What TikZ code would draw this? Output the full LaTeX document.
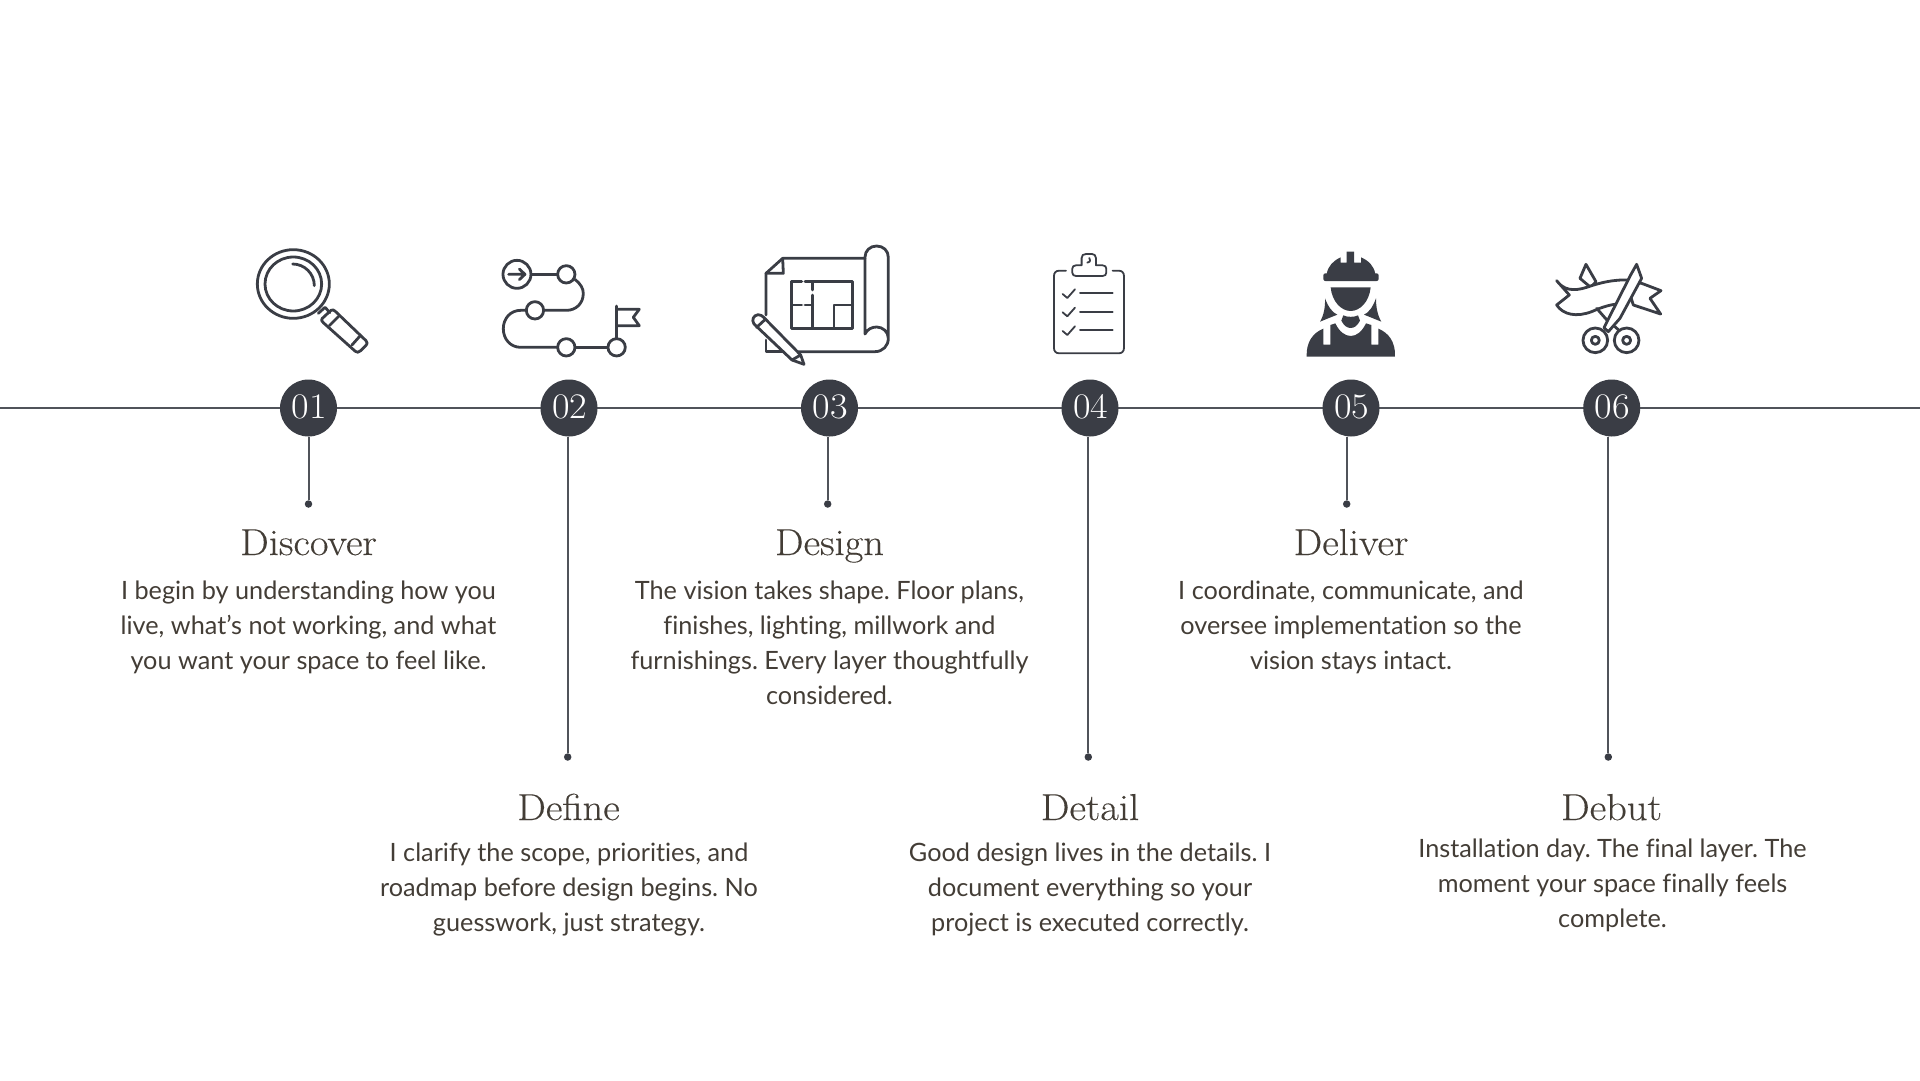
\documentclass[tikz,border=0pt]{standalone}
\usepackage{fontspec}
\newfontfamily\bodyfont[Ligatures=NoCommon]{Lato}
\newfontfamily\namefont[FakeStretch=1.08,FakeBold=0.25]{Latin Modern Roman}
\newfontfamily\numfont[FakeStretch=1.06]{Latin Modern Roman}
\usetikzlibrary{arrows.meta,positioning}
\definecolor{slate}{RGB}{58,61,69}
\definecolor{umber}{RGB}{67,61,54}
\definecolor{rule}{RGB}{80,83,90}
\tikzset{
  stepdot/.style={circle,fill=slate,inner sep=0pt,minimum size=57pt,text=white,font=\numfont\fontsize{36}{36}\selectfont},
  enddot/.style={circle,fill=slate,inner sep=0pt,minimum size=7.5pt},
  stepname/.style={anchor=base,text=umber,font=\namefont\fontsize{37.5}{37.5}\selectfont},
  stepnote/.style={anchor=north,align=center,text=umber,font=\bodyfont\fontsize{25.25}{35}\selectfont\frenchspacing},
  icon/.style={draw=slate,line width=2.8pt,line cap=round,line join=round,fill=none},
  iconthin/.style={icon,line width=1.8pt},
  stem/.style={draw=rule,line width=2pt},
}
\begin{document}
\begin{tikzpicture}[x=1pt,y=-1pt]
  \useasboundingbox (0,0) rectangle (1920,1080);
  \coordinate (lineL) at (0,408);
  \coordinate (lineR) at (1920,408);
  \draw[stem] (lineL) -- (lineR);
  \foreach \n/\cx/\sx/\sy in {01/308.5/308.5/504,02/569/567.7/757,03/829.5/827.7/504,04/1090/1088.3/757,05/1351/1346.7/504,06/1611.7/1608.3/757}{
    \node[stepdot] (c\n) at (\cx,408) {\hspace{1.5pt}\raisebox{3pt}{\n}};
    \node[enddot] (d\n) at (\sx,\sy) {};
    \draw[stem] (d\n |- c\n.south) -- (d\n);
  }
  \node[stepname] (t1) at (308.5,555) {Discover};
  \node[stepname] (t2) at (568.5,820) {Define};
  \node[stepname] (t3) at (829.5,555) {Design};
  \node[stepname] (t4) at (1090,820) {Detail};
  \node[stepname] (t5) at (1351,555) {Deliver};
  \node[stepname] (t6) at (1611.5,820) {Debut};
  \node[stepnote] (n1) at (308.5,577) {I begin by understanding how you\\live, what’s not working, and what\\you want your space to feel like.};
  \node[stepnote] (n2) at (569,839) {I clarify the scope, priorities, and\\roadmap before design begins. No\\guesswork, just strategy.};
  \node[stepnote] (n3) at (829.5,577) {The vision takes shape. Floor plans,\\finishes, lighting, millwork and\\furnishings. Every layer thoughtfully\\considered.};
  \node[stepnote] (n4) at (1090,839) {Good design lives in the details. I\\document everything so your\\project is executed correctly.};
  \node[stepnote] (n5) at (1351,577) {I coordinate, communicate, and\\oversee implementation so the\\vision stays intact.};
  \node[stepnote] (n6) at (1612.5,835.5) {Installation day. The final layer. The\\moment your space finally feels\\complete.};
  % magnifier and route
  \begin{scope}[shift={(230,230)},x=0.3333pt,y=-0.3333pt]
    \draw[icon] (190,162) ellipse (108 and 103);
    \draw[icon] (190,162) ellipse (85 and 81);
    \draw[icon] (188,102) arc (-90:0:65);
    \draw[icon] (265,250) -- (285,232) -- (300,248);
    \draw[icon] (276,266) -- (303,241) .. controls (308,238) and (312,240) .. (316,244) -- (408,332) .. controls (413,337) and (413,342) .. (408,346) -- (392,362) .. controls (386,368) and (381,368) .. (376,364) -- (281,279) .. controls (275,274) and (273,270) .. (276,266);
    \draw[icon] (298,287) -- (325,260);
    \draw[icon] (366,345) -- (390,318);
    \draw[icon] (861,133) circle (42);
    \draw[icon] (836,133) -- (884,133) (868,117) -- (885,133) -- (868,149);
    \draw[icon] (905,133) -- (982,133);
    \draw[icon] (1009,133) circle (26);
    \draw[icon] (1035,148) .. controls (1052,162) and (1060,175) .. (1060,190) .. controls (1060,220) and (1038,241) .. (1010,241) -- (942,241);
    \draw[icon] (915,241) circle (26);
    \draw[icon] (888,241) -- (872,241) .. controls (842,241) and (820,265) .. (820,296) .. controls (820,328) and (842,352) .. (872,352) -- (982,352);
    \draw[icon] (1009,352) circle (26);
    \draw[icon] (1036,352) -- (1133,352);
    \draw[icon] (1160,352) circle (26);
    \draw[icon] (1160,326) -- (1160,228);
    \draw[icon] (1160,238) -- (1228,238) -- (1210,262) -- (1228,287) -- (1160,287);
  \end{scope}
  % blueprint and clipboard
  \begin{scope}[shift={(730,230)},x=0.3333pt,y=-0.3333pt]
    \draw[icon] (108,255) -- (108,130) -- (158,85) -- (405,85);
    \draw[icon] (108,130) -- (160,130) -- (158,85);
    \draw[icon] (108,330) -- (108,365) -- (160,365);
    \draw[icon] (205,365) -- (435,365) .. controls (458,365) and (475,348) .. (475,325) -- (475,82) .. controls (475,62) and (460,48) .. (440,48) .. controls (420,48) and (405,62) .. (405,82) -- (405,312) .. controls (412,298) and (425,291) .. (440,291) .. controls (458,291) and (475,305) .. (475,325);
    \draw[icon] (215,155) -- (185,155) -- (185,295) -- (368,295) -- (368,155) -- (225,155);
    \draw[icon] (185,225) -- (215,225) (225,225) -- (248,225);
    \draw[icon] (248,155) -- (248,180) (248,195) -- (248,295);
    \draw[icon] (312,295) -- (312,225) -- (368,225);
    \draw[icon,fill=white] (72,282) .. controls (64,270) and (70,256) .. (84,254) .. controls (92,254) and (98,258) .. (102,263) -- (212,375) -- (222,403) -- (186,390) -- cycle;
    \draw[icon] (80,292) -- (106,268);
    \draw[icon] (186,390) -- (212,375);
    \draw[iconthin] (1008,122) -- (988,122) .. controls (978,122) and (972,128) .. (972,138) -- (972,354) .. controls (972,364) and (978,370) .. (988,370) -- (1166,370) .. controls (1176,370) and (1182,364) .. (1182,354) -- (1182,138) .. controls (1182,128) and (1176,122) .. (1166,122) -- (1148,122);
    \draw[iconthin] (1055,106) -- (1038,106) .. controls (1031,106) and (1027,110) .. (1027,116) -- (1027,128) .. controls (1027,134) and (1031,138) .. (1038,138) -- (1118,138) .. controls (1125,138) and (1129,134) .. (1129,128) -- (1129,116) .. controls (1129,110) and (1125,106) .. (1118,106) -- (1098,106) -- (1098,84) .. controls (1098,76) and (1092,72) .. (1086,72) -- (1068,72) .. controls (1060,72) and (1055,76) .. (1055,84) -- cycle;
    \draw[iconthin] (1078,84) .. controls (1082,92) and (1080,100) .. (1072,98);
    \foreach \dy in {0,55,111}{
      \draw[iconthin] (1050,190+\dy) -- (1148,190+\dy);
      \draw[iconthin] (998,192+\dy) -- (1012,204+\dy) -- (1035,178+\dy);
    }
  \end{scope}
  % worker and scissors
  \begin{scope}[shift={(1280,230)},x=0.3333pt,y=-0.3333pt]
    \fill[slate,rounded corners=2pt] (130,130) rectangle (296,153);
    \fill[slate] (140,132) .. controls (144,108) and (160,92) .. (182,82) -- (182,98) -- (200,98) -- (200,65) -- (222,65) -- (222,98) -- (243,98) -- (243,82) .. controls (266,92) and (282,108) .. (286,132) -- cycle;
    \fill[slate] (152,172) -- (272,172) .. controls (268,215) and (240,243) .. (212,243) .. controls (184,243) and (156,215) .. (152,172) -- cycle;
    \fill[slate] (135,205) .. controls (145,232) and (158,248) .. (172,254) -- (120,275) .. controls (132,255) and (136,230) .. (135,205) -- cycle;
    \fill[slate] (288,205) .. controls (278,232) and (266,248) .. (252,254) -- (304,275) .. controls (292,255) and (288,230) .. (288,205) -- cycle;
    \fill[slate] (190,256) .. controls (200,262) and (224,262) .. (234,256) -- (240,272) .. controls (232,288) and (222,294) .. (212,294) .. controls (202,294) and (192,288) .. (184,272) -- cycle;
    \fill[slate] (80,380) .. controls (78,335) and (100,308) .. (130,296) -- (130,344) -- (151,344) -- (151,285) -- (166,280) .. controls (178,305) and (195,318) .. (212,318) .. controls (230,318) and (246,305) .. (258,280) -- (274,285) -- (274,344) -- (295,344) -- (295,296) .. controls (325,308) and (347,335) .. (345,380) -- cycle;
    \draw[icon,fill=white] (918,103) -- (900,145) -- (932,172) -- (948,155) -- cycle;
    \draw[icon,fill=white] (1060,225) -- (1142,252) -- (1110,205) -- (1143,182) -- (1085,160) -- (1040,160) -- cycle;
    \draw[icon,fill=white] (830,152) .. controls (850,180) and (880,185) .. (920,172) .. controls (960,158) and (1000,148) .. (1050,150) -- (1040,222) .. controls (1000,218) and (965,232) .. (935,245) .. controls (890,262) and (850,255) .. (830,225) -- (868,195) -- cycle;
    \draw[icon] (950,235) -- (985,275);
    \draw[icon] (1005,290) -- (1016,300);
    \draw[icon] (946,331) circle (37);
    \draw[icon] (946,331) circle (12);
    \draw[icon] (1040,331) circle (37);
    \draw[icon] (1040,331) circle (12);
    \draw[icon,fill=white] (1070,103) -- (1085,145) -- (1020,265) -- (985,305) -- (972,293) -- (1052,135) -- cycle;
  \end{scope}
\end{tikzpicture}
\end{document}
